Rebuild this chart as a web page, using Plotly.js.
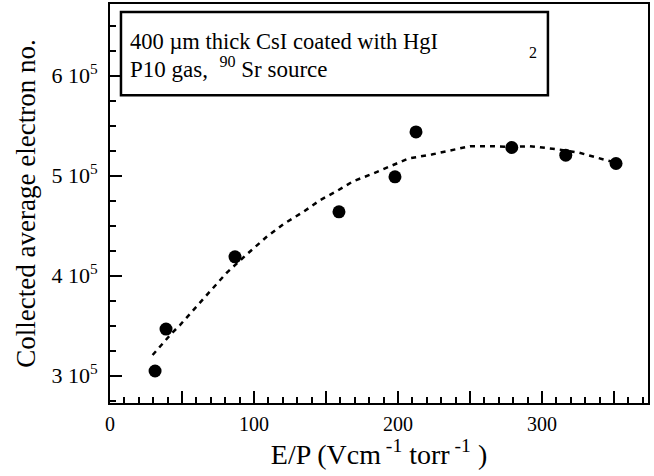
<!DOCTYPE html>
<html>
<head>
<meta charset="utf-8">
<script src="https://cdn.plot.ly/plotly-3.0.1.min.js"></script>
<style>html,body{margin:0;padding:0;background:#fff;}#chart{width:654px;height:476px;}</style>
</head>
<body>
<div id="chart"></div>
<script>
// measured data points
const xPts = [31.3, 38.9, 86.8, 159.0, 197.9, 212.5, 279.0, 316.5, 351.4];
const yPts = [304500, 346500, 418800, 463800, 498800, 543800, 528200, 520500, 512200];
// dashed guide curve
const xFit = [29.6, 37.7, 42.8, 48.6, 59.1, 69.4, 81.0, 94.9, 108.8, 120.4, 134.3, 145.9, 157.4, 169.0, 182.9, 199.1, 207.2, 223.4, 238.4, 250.0, 263.9, 279.0, 291.6, 310.3, 325.2, 335.6, 342.8, 352.4];
const yFit = [320500, 333800, 342200, 350500, 367800, 383800, 402800, 421200, 438800, 451500, 463800, 475500, 484500, 494500, 502200, 512200, 517200, 521200, 526200, 529500, 529500, 528800, 529500, 526500, 523200, 518800, 516200, 512500];
// ticks
const xTickVals = [0, 50, 100, 150, 200, 250, 300, 350];
const xTickText = ['0', '', '100', '', '200', '', '300', ''];
const yTickVals = [300000, 400000, 500000, 600000];
const yTickText = ['3 10<sup>5</sup>', '4 10<sup>5</sup>', '5 10<sup>5</sup>', '6 10<sup>5</sup>'];
const xTitle = 'E/P (Vcm<sup> -1</sup> torr<sup> -1</sup> )';
const yTitle = 'Collected average electron no.';
const label1 = '400 µm thick CsI coated with HgI';
const label1Sub = '2';
const label2 = 'P10 gas,  <sup>90</sup> Sr source';

const FONT = 'Liberation Serif, Times New Roman, serif';

const traces = [
  {x: xFit, y: yFit, mode: 'lines', type: 'scatter',
   line: {color: '#000', width: 2.5, dash: '5px,5px'}, hoverinfo: 'skip'},
  {x: xPts, y: yPts, mode: 'markers', type: 'scatter',
   marker: {color: '#000', size: 13, symbol: 'circle'}}
];

const layout = {
  width: 654, height: 476,
  margin: {l: 110, r: 6, t: 4, b: 73},
  paper_bgcolor: '#fff', plot_bgcolor: '#fff',
  showlegend: false,
  font: {family: FONT, color: '#000', size: 20},
  xaxis: {
    range: [0, 373.6], showgrid: false, zeroline: false,
    showline: true, linecolor: '#000', linewidth: 2, mirror: true,
    ticks: 'inside', ticklen: 12, tickwidth: 2, tickcolor: '#000',
    tickmode: 'array', tickvals: xTickVals, ticktext: xTickText,
    tickfont: {family: FONT, size: 20, color: '#000'},
    ticklabelstandoff: 2,
    minor: {dtick: 10, ticks: 'inside', ticklen: 6, tickwidth: 2, tickcolor: '#000', showgrid: false},
    title: {text: xTitle, font: {family: FONT, size: 28, color: '#000'}, standoff: 9}
  },
  yaxis: {
    range: [272500, 671800], showgrid: false, zeroline: false,
    showline: true, linecolor: '#000', linewidth: 2, mirror: true,
    ticks: 'inside', ticklen: 12, tickwidth: 2, tickcolor: '#000',
    tickmode: 'array', tickvals: yTickVals, ticktext: yTickText,
    tickfont: {family: FONT, size: 22, color: '#000'},
    ticklabelstandoff: 6,
    minor: {dtick: 25000, ticks: 'inside', ticklen: 6, tickwidth: 2, tickcolor: '#000', showgrid: false},
    title: {text: yTitle, font: {family: FONT, size: 27, color: '#000'}, standoff: 8}
  },
  shapes: [
    {type: 'rect', xref: 'paper', yref: 'paper', x0: 0.0204, x1: 0.814, y0: 0.771, y1: 0.98,
     line: {color: '#000', width: 2.5}, fillcolor: 'rgba(0,0,0,0)'}
  ],
  annotations: [
    {xref: 'paper', yref: 'paper', x: 0.033, y: 0.905, xanchor: 'left', yanchor: 'middle',
     text: label1, showarrow: false, font: {family: FONT, size: 22.5, color: '#000'}},
    {xref: 'paper', yref: 'paper', x: 0.787, y: 0.878, xanchor: 'center', yanchor: 'middle',
     text: label1Sub, showarrow: false, font: {family: FONT, size: 16, color: '#000'}},
    {xref: 'paper', yref: 'paper', x: 0.033, y: 0.84, xanchor: 'left', yanchor: 'middle',
     text: label2, showarrow: false, font: {family: FONT, size: 23, color: '#000'}}
  ]
};

Plotly.newPlot('chart', traces, layout, {displayModeBar: false, staticPlot: true});
</script>
</body>
</html>
